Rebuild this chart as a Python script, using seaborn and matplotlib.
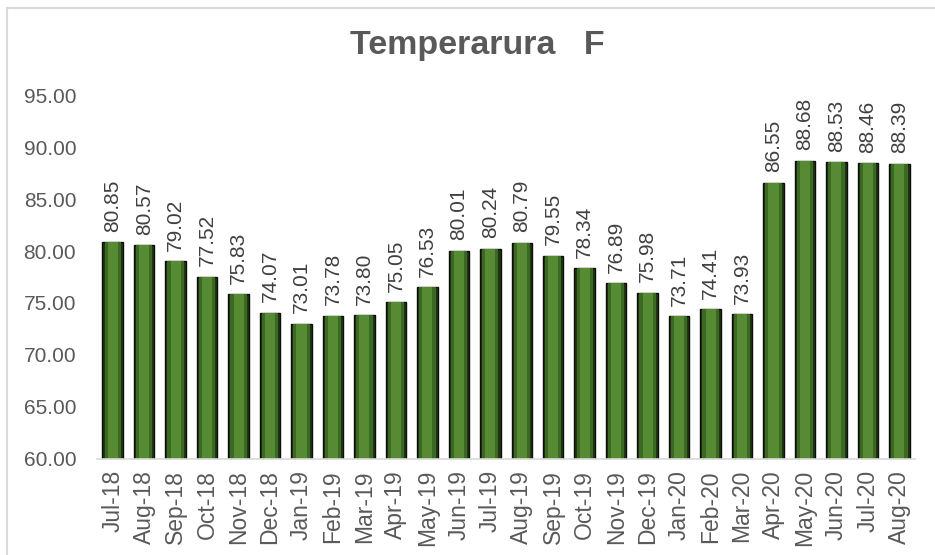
import numpy as np
import pandas as pd
import seaborn as sns
import matplotlib.pyplot as plt
from matplotlib.lines import Line2D
from matplotlib.ticker import FormatStrFormatter

months = ["Jul-18", "Aug-18", "Sep-18", "Oct-18", "Nov-18", "Dec-18",
          "Jan-19", "Feb-19", "Mar-19", "Apr-19", "May-19", "Jun-19",
          "Jul-19", "Aug-19", "Sep-19", "Oct-19", "Nov-19", "Dec-19",
          "Jan-20", "Feb-20", "Mar-20", "Apr-20", "May-20", "Jun-20",
          "Jul-20", "Aug-20"]
temps = [80.85, 80.57, 79.02, 77.52, 75.83, 74.07,
         73.01, 73.78, 73.80, 75.05, 76.53, 80.01,
         80.24, 80.79, 79.55, 78.34, 76.89, 75.98,
         73.71, 74.41, 73.93, 86.55, 88.68, 88.53,
         88.46, 88.39]
y_ticks = [60, 65, 70, 75, 80, 85, 90, 95]

df = pd.DataFrame({"month": months, "temp": temps})

sns.set_style("white")
plt.rcParams["font.family"] = ["Liberation Sans", "DejaVu Sans"]

fig = plt.figure(figsize=(9.35, 5.55), dpi=100)
ax = fig.add_axes([0.1037, 0.173, 0.875, 0.6558])

# layered bars to fake the bevelled Excel look
sns.barplot(data=df, x="month", y="temp", order=months, color="#1f3510",
            width=0.65, edgecolor="#0d0d0d", linewidth=1.0, saturation=1, ax=ax)
sns.barplot(data=df, x="month", y="temp", order=months, color="#3b6823",
            width=0.52, linewidth=0, saturation=1, ax=ax)
sns.barplot(data=df, x="month", y="temp", order=months, color="#568b34",
            width=0.32, linewidth=0, saturation=1, ax=ax)

for i, v in enumerate(temps):
    ax.text(i, v + 1.0, f"{v:.2f}", rotation=90, ha="center", va="bottom",
            fontsize=15, color="#404040", clip_on=False)

ax.set_ylim(60, 95)
ax.set_xlim(-0.5, len(months) - 0.5)
ax.set_yticks(y_ticks)
ax.yaxis.set_major_formatter(FormatStrFormatter("%.2f"))
ax.set_xlabel("")
ax.set_ylabel("")

ax.tick_params(axis="y", length=0, pad=15, labelsize=15, labelcolor="#595959")
ax.tick_params(axis="x", which="major", length=0, pad=8, labelsize=16.5,
               labelcolor="#595959", rotation=90)
ax.set_xticks(np.arange(-0.5, len(months)), minor=True)
ax.tick_params(axis="x", which="minor", length=6, width=1.2, color="#d9d9d9")

for side in ["top", "right", "left"]:
    ax.spines[side].set_visible(False)
ax.spines["bottom"].set_color("#d9d9d9")
ax.spines["bottom"].set_linewidth(1.2)

fig.text(0.51, 0.918, "Temperarura   F", ha="center", va="center",
         fontsize=24.5, fontweight="bold", color="#595959")

# chart area border (left and top only visible in the crop)
fig.add_artist(Line2D([6.5 / 935, 6.5 / 935], [0, 1 - 7.5 / 555],
                      transform=fig.transFigure, color="#d9d9d9", lw=1.5))
fig.add_artist(Line2D([6.5 / 935, 1], [1 - 7.5 / 555, 1 - 7.5 / 555],
                      transform=fig.transFigure, color="#d9d9d9", lw=1.5))

fig.savefig("out.png", dpi=100)
plt.close(fig)
